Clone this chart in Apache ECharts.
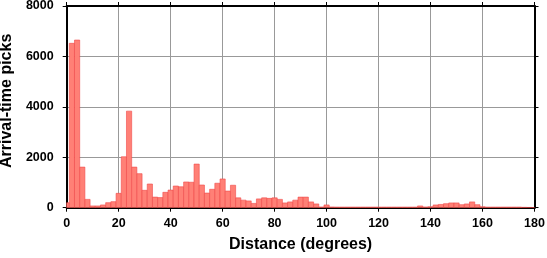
<!DOCTYPE html>
<html>
<head>
<meta charset="utf-8">
<script src="https://cdn.jsdelivr.net/npm/echarts@6/dist/echarts.min.js"></script>
<style>html,body{margin:0;padding:0;background:#fff}#c{width:547px;height:258px}</style>
</head>
<body>
<div id="c"></div>
<script>
// Histogram bins: 2-degree bins centered on even degrees
var binCenters = [];
for (var d = 0; d <= 180; d += 2) binCenters.push(d);
var binWidth = 2;
var picks = [
  200, 6520, 6650, 1610, 330, 70, 70, 110, 200, 240,
  570, 2020, 3830, 1610, 1350, 690, 940, 420, 400, 610,
  700, 860, 830, 1020, 1010, 1730, 900, 580, 730, 970,
  1140, 660, 890, 390, 300, 270, 170, 350, 390, 370,
  390, 330, 190, 230, 300, 420, 420, 230, 150, 30,
  110, 30, 25, 25, 25, 25, 25, 25, 25, 25,
  25, 25, 25, 25, 25, 25, 25, 25, 70, 30,
  40, 110, 130, 160, 190, 190, 120, 150, 230, 120,
  40, 25, 25, 25, 25, 25, 25, 25, 15, 10,
  5
];
var xTicks = [0, 20, 40, 60, 80, 100, 120, 140, 160, 180];
var yTicks = [0, 2000, 4000, 6000, 8000];

var font = 'Liberation Sans, Arial, Helvetica, sans-serif';
var data = binCenters.map(function (c, i) { return [c, picks[i]]; });

var chart = echarts.init(document.getElementById('c'), null, {renderer: 'canvas'});
function axisCommon() {
  return {
    axisLine: {show: true, onZero: false, lineStyle: {color: '#000', width: 2}},
    axisTick: {show: true, inside: false, length: 4, lineStyle: {color: '#000', width: 1}}
  };
}
chart.setOption({
  animation: false,
  grid: {left: 66.7, right: 12.5, top: 6, bottom: 50.3, containLabel: false, outerBoundsMode: 'none'},
  xAxis: [
    Object.assign({
      type: 'value', min: 0, max: 180, interval: 20, position: 'bottom',
      name: 'Distance (degrees)', nameLocation: 'middle', nameGap: 29,
      nameTextStyle: {fontFamily: font, fontWeight: 'bold', fontSize: 16, color: '#000'},
      axisLabel: {fontFamily: font, fontWeight: 'bold', fontSize: 12.5, color: '#000', margin: 9,
        formatter: function (v) { return String(v); }},
      splitLine: {show: true, lineStyle: {color: '#999999', width: 1}}
    }, axisCommon()),
    Object.assign({
      type: 'value', min: 0, max: 180, interval: 20, position: 'top',
      axisLabel: {show: false}, splitLine: {show: false}
    }, axisCommon())
  ],
  yAxis: [
    Object.assign({
      type: 'value', min: 0, max: 8000, interval: 2000, position: 'left',
      name: 'Arrival-time picks', nameLocation: 'middle', nameGap: 52, nameRotate: 90,
      nameTextStyle: {fontFamily: font, fontWeight: 'bold', fontSize: 16, color: '#000', padding: [0, 0, 0, 12]},
      axisLabel: {fontFamily: font, fontWeight: 'bold', fontSize: 12.5, color: '#000', margin: 13,
        formatter: function (v) { return String(v); }},
      splitLine: {show: true, lineStyle: {color: '#999999', width: 1}}
    }, axisCommon()),
    Object.assign({
      type: 'value', min: 0, max: 8000, interval: 2000, position: 'right',
      axisLabel: {show: false}, splitLine: {show: false}
    }, axisCommon())
  ],
  series: [{
    type: 'custom',
    xAxisIndex: 0, yAxisIndex: 0,
    data: data,
    clip: true,
    renderItem: function (params, api) {
      var c = api.value(0), v = api.value(1);
      var x0 = Math.max(0, c - binWidth / 2), x1 = Math.min(180, c + binWidth / 2);
      var p0 = api.coord([x0, v]);
      var p1 = api.coord([x1, 0]);
      return {
        type: 'rect',
        shape: {x: p0[0], y: p0[1], width: p1[0] - p0[0], height: p1[1] - p0[1]},
        style: {fill: '#ff8076', stroke: '#f04848', lineWidth: 0.6}
      };
    }
  }]
});
</script>
</body>
</html>
